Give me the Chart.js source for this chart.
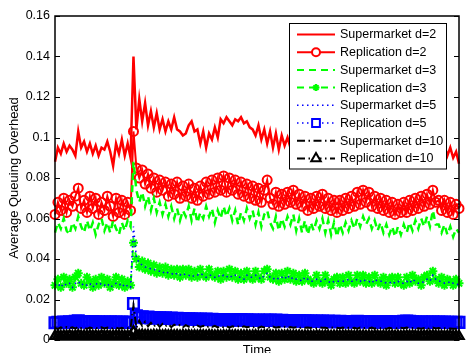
<!DOCTYPE html>
<html>
<head>
<meta charset="utf-8">
<script src="https://cdn.jsdelivr.net/npm/chart.js@4.4.1/dist/chart.umd.min.js"></script>
<style>
  body { margin: 0; background: #fff; }
  #wrap { width: 469px; height: 353px; }
</style>
</head>
<body>
<div id="wrap"><canvas id="queueChart" width="469" height="353"></canvas></div>
<script>
// valores (140 pasos de tiempo, pico en el paso 27)
const seriesNames = ['Supermarket d=2', 'Replication d=2', 'Supermarket d=3', 'Replication d=3',
    'Supermarket d=5', 'Replication d=5', 'Supermarket d=10', 'Replication d=10'];
const yTickValues = [0, 0.02, 0.04, 0.06, 0.08, 0.1, 0.12, 0.14, 0.16];
const xTitle = 'Time';
const yTitle = 'Average Queuing Overhead';

const superD2 = [
    0.088, 0.095, 0.092, 0.097, 0.093, 0.096, 0.094, 0.091, 0.103, 0.095,
    0.098, 0.093, 0.097, 0.092, 0.096, 0.091, 0.095, 0.094, 0.098, 0.093,
    0.086, 0.097, 0.092, 0.099, 0.091, 0.097, 0.090, 0.140, 0.104, 0.119,
    0.108, 0.117, 0.106, 0.113, 0.105, 0.112, 0.104, 0.109, 0.103, 0.108,
    0.104, 0.110, 0.104, 0.103, 0.101, 0.102, 0.106, 0.108, 0.103, 0.104,
    0.097, 0.103, 0.095, 0.102, 0.099, 0.105, 0.100, 0.109, 0.107, 0.110,
    0.108, 0.106, 0.109, 0.108, 0.110, 0.107, 0.108, 0.105, 0.104, 0.101,
    0.106, 0.099, 0.104, 0.097, 0.103, 0.095, 0.102, 0.094, 0.101, 0.096,
    0.100, 0.095, 0.099, 0.093, 0.098, 0.094, 0.099, 0.095, 0.100, 0.096,
    0.098, 0.094, 0.097, 0.095, 0.099, 0.096, 0.100, 0.097, 0.101, 0.098,
    0.102, 0.099, 0.103, 0.097, 0.101, 0.098, 0.102, 0.099, 0.104, 0.100,
    0.103, 0.098, 0.101, 0.097, 0.100, 0.096, 0.099, 0.095, 0.098, 0.096,
    0.099, 0.094, 0.098, 0.095, 0.097, 0.094, 0.098, 0.093, 0.097, 0.094,
    0.096, 0.092, 0.097, 0.093, 0.096, 0.091, 0.095, 0.090, 0.093, 0.087
];
const replD2 = [
    0.062, 0.068, 0.064, 0.070, 0.063, 0.069, 0.066, 0.071, 0.075, 0.065,
    0.069, 0.063, 0.071, 0.065, 0.070, 0.062, 0.068, 0.064, 0.071, 0.066,
    0.061, 0.070, 0.063, 0.069, 0.062, 0.068, 0.064, 0.103, 0.085, 0.080,
    0.084, 0.077, 0.082, 0.075, 0.080, 0.073, 0.079, 0.074, 0.078, 0.071,
    0.077, 0.072, 0.078, 0.070, 0.076, 0.071, 0.077, 0.070, 0.075, 0.069,
    0.076, 0.071, 0.078, 0.072, 0.079, 0.073, 0.080, 0.074, 0.081, 0.073,
    0.080, 0.074, 0.079, 0.072, 0.078, 0.071, 0.077, 0.070, 0.076, 0.069,
    0.075, 0.068, 0.074, 0.079, 0.070, 0.067, 0.073, 0.066, 0.072, 0.067,
    0.073, 0.068, 0.074, 0.067, 0.072, 0.066, 0.071, 0.064, 0.070, 0.065,
    0.071, 0.066, 0.072, 0.065, 0.070, 0.064, 0.069, 0.063, 0.069, 0.064,
    0.070, 0.065, 0.071, 0.066, 0.073, 0.067, 0.074, 0.068, 0.073, 0.066,
    0.071, 0.065, 0.070, 0.064, 0.069, 0.063, 0.068, 0.062, 0.067, 0.063,
    0.068, 0.063, 0.069, 0.064, 0.070, 0.065, 0.071, 0.066, 0.072, 0.067,
    0.074, 0.068, 0.069, 0.064, 0.069, 0.063, 0.068, 0.062, 0.067, 0.065
];
const superD3 = [
    0.053, 0.058, 0.055, 0.060, 0.054, 0.052, 0.058, 0.055, 0.061, 0.056,
    0.053, 0.059, 0.054, 0.058, 0.052, 0.057, 0.060, 0.054, 0.058, 0.053,
    0.059, 0.055, 0.052, 0.058, 0.054, 0.059, 0.056, 0.088, 0.074, 0.068,
    0.073, 0.066, 0.071, 0.064, 0.070, 0.063, 0.068, 0.062, 0.067, 0.061,
    0.066, 0.060, 0.065, 0.059, 0.064, 0.061, 0.066, 0.059, 0.065, 0.058,
    0.063, 0.060, 0.066, 0.061, 0.065, 0.058, 0.064, 0.060, 0.066, 0.061,
    0.065, 0.059, 0.064, 0.057, 0.063, 0.059, 0.065, 0.060, 0.064, 0.057,
    0.063, 0.056, 0.062, 0.064, 0.058, 0.055, 0.061, 0.054, 0.060, 0.056,
    0.061, 0.057, 0.062, 0.054, 0.060, 0.053, 0.059, 0.052, 0.058, 0.054,
    0.059, 0.055, 0.060, 0.053, 0.059, 0.052, 0.058, 0.051, 0.057, 0.053,
    0.058, 0.054, 0.059, 0.055, 0.060, 0.056, 0.061, 0.057, 0.060, 0.055,
    0.059, 0.054, 0.058, 0.053, 0.057, 0.052, 0.056, 0.051, 0.056, 0.052,
    0.057, 0.053, 0.058, 0.054, 0.059, 0.055, 0.060, 0.056, 0.061, 0.056,
    0.064, 0.057, 0.057, 0.053, 0.057, 0.052, 0.056, 0.051, 0.055, 0.053
];
const replD3 = [
    0.027, 0.030, 0.026, 0.031, 0.028, 0.030, 0.026, 0.031, 0.033, 0.028,
    0.027, 0.031, 0.029, 0.026, 0.030, 0.027, 0.031, 0.028, 0.030, 0.026,
    0.028, 0.031, 0.027, 0.030, 0.026, 0.029, 0.027, 0.048, 0.040, 0.036,
    0.039, 0.035, 0.038, 0.034, 0.037, 0.033, 0.036, 0.033, 0.036, 0.032,
    0.035, 0.032, 0.035, 0.031, 0.035, 0.032, 0.035, 0.031, 0.034, 0.031,
    0.035, 0.032, 0.031, 0.035, 0.032, 0.031, 0.034, 0.030, 0.034, 0.031,
    0.035, 0.031, 0.034, 0.030, 0.033, 0.030, 0.034, 0.031, 0.030, 0.034,
    0.031, 0.030, 0.034, 0.035, 0.031, 0.030, 0.033, 0.029, 0.033, 0.030,
    0.034, 0.030, 0.033, 0.029, 0.032, 0.029, 0.033, 0.030, 0.029, 0.028,
    0.032, 0.029, 0.028, 0.032, 0.029, 0.027, 0.030, 0.031, 0.028, 0.031,
    0.028, 0.032, 0.029, 0.028, 0.032, 0.029, 0.032, 0.028, 0.031, 0.028,
    0.032, 0.029, 0.028, 0.031, 0.027, 0.030, 0.031, 0.028, 0.031, 0.028,
    0.027, 0.031, 0.028, 0.032, 0.029, 0.030, 0.027, 0.031, 0.032, 0.029,
    0.034, 0.030, 0.028, 0.031, 0.027, 0.030, 0.029, 0.027, 0.030, 0.028
];
const superD5 = [
    0.027, 0.028, 0.026, 0.028, 0.027, 0.028, 0.026, 0.028, 0.029, 0.027,
    0.028, 0.027, 0.028, 0.026, 0.028, 0.027, 0.028, 0.027, 0.028, 0.026,
    0.027, 0.028, 0.027, 0.028, 0.026, 0.027, 0.026, 0.056, 0.041, 0.038,
    0.037, 0.036, 0.036, 0.035, 0.035, 0.034, 0.034, 0.033, 0.034, 0.033,
    0.033, 0.032, 0.033, 0.032, 0.033, 0.032, 0.032, 0.031, 0.032, 0.032,
    0.033, 0.032, 0.031, 0.032, 0.032, 0.031, 0.032, 0.031, 0.032, 0.031,
    0.032, 0.031, 0.032, 0.031, 0.031, 0.030, 0.032, 0.031, 0.031, 0.032,
    0.031, 0.030, 0.032, 0.033, 0.031, 0.030, 0.031, 0.030, 0.031, 0.030,
    0.032, 0.030, 0.031, 0.030, 0.030, 0.029, 0.031, 0.030, 0.029, 0.029,
    0.030, 0.029, 0.029, 0.030, 0.029, 0.028, 0.029, 0.029, 0.029, 0.029,
    0.029, 0.030, 0.029, 0.029, 0.030, 0.029, 0.030, 0.029, 0.029, 0.028,
    0.030, 0.029, 0.029, 0.029, 0.028, 0.028, 0.029, 0.028, 0.029, 0.028,
    0.028, 0.029, 0.028, 0.030, 0.029, 0.028, 0.028, 0.029, 0.030, 0.029,
    0.032, 0.030, 0.029, 0.029, 0.028, 0.028, 0.029, 0.028, 0.028, 0.027
];
const replD5 = [
    0.0085, 0.0088, 0.0086, 0.0089, 0.0087, 0.0090, 0.0088, 0.0092, 0.0095, 0.0091,
    0.0089, 0.0090, 0.0088, 0.0091, 0.0089, 0.0090, 0.0088, 0.0089, 0.0087, 0.0090,
    0.0088, 0.0089, 0.0087, 0.0089, 0.0088, 0.0087, 0.0088, 0.0180, 0.0120, 0.0112,
    0.0115, 0.0110, 0.0113, 0.0109, 0.0111, 0.0108, 0.0110, 0.0107, 0.0109, 0.0106,
    0.0108, 0.0105, 0.0107, 0.0104, 0.0106, 0.0104, 0.0105, 0.0103, 0.0104, 0.0102,
    0.0104, 0.0101, 0.0103, 0.0100, 0.0102, 0.0100, 0.0101, 0.0099, 0.0101, 0.0099,
    0.0100, 0.0098, 0.0100, 0.0099, 0.0101, 0.0098, 0.0100, 0.0097, 0.0099, 0.0097,
    0.0098, 0.0096, 0.0098, 0.0097, 0.0099, 0.0096, 0.0098, 0.0095, 0.0097, 0.0095,
    0.0096, 0.0094, 0.0096, 0.0094, 0.0095, 0.0093, 0.0095, 0.0093, 0.0094, 0.0092,
    0.0094, 0.0092, 0.0093, 0.0091, 0.0093, 0.0091, 0.0092, 0.0090, 0.0092, 0.0090,
    0.0091, 0.0089, 0.0091, 0.0090, 0.0092, 0.0090, 0.0091, 0.0089, 0.0091, 0.0089,
    0.0090, 0.0088, 0.0090, 0.0089, 0.0091, 0.0089, 0.0090, 0.0088, 0.0090, 0.0088,
    0.0092, 0.0094, 0.0092, 0.0090, 0.0089, 0.0088, 0.0090, 0.0088, 0.0089, 0.0088,
    0.0090, 0.0088, 0.0089, 0.0087, 0.0089, 0.0087, 0.0088, 0.0086, 0.0088, 0.0087
];
const superD10 = [
    0.0060, 0.0055, 0.0062, 0.0057, 0.0064, 0.0058, 0.0063, 0.0056, 0.0066, 0.0059,
    0.0061, 0.0055, 0.0062, 0.0058, 0.0060, 0.0056, 0.0063, 0.0057, 0.0061, 0.0055,
    0.0059, 0.0062, 0.0056, 0.0060, 0.0054, 0.0058, 0.0057, 0.0170, 0.0060, 0.0095,
    0.0070, 0.0090, 0.0068, 0.0085, 0.0066, 0.0082, 0.0065, 0.0080, 0.0068, 0.0078,
    0.0064, 0.0076, 0.0067, 0.0074, 0.0063, 0.0073, 0.0066, 0.0072, 0.0062, 0.0071,
    0.0065, 0.0070, 0.0061, 0.0069, 0.0064, 0.0070, 0.0062, 0.0068, 0.0063, 0.0069,
    0.0061, 0.0068, 0.0064, 0.0067, 0.0060, 0.0068, 0.0063, 0.0066, 0.0061, 0.0067,
    0.0060, 0.0066, 0.0062, 0.0065, 0.0059, 0.0066, 0.0061, 0.0064, 0.0060, 0.0065,
    0.0059, 0.0064, 0.0061, 0.0063, 0.0058, 0.0064, 0.0060, 0.0062, 0.0059, 0.0063,
    0.0058, 0.0062, 0.0060, 0.0061, 0.0057, 0.0062, 0.0059, 0.0060, 0.0058, 0.0062,
    0.0057, 0.0061, 0.0059, 0.0060, 0.0056, 0.0061, 0.0058, 0.0060, 0.0057, 0.0061,
    0.0056, 0.0060, 0.0058, 0.0059, 0.0055, 0.0060, 0.0057, 0.0059, 0.0056, 0.0060,
    0.0058, 0.0062, 0.0057, 0.0059, 0.0055, 0.0058, 0.0056, 0.0059, 0.0055, 0.0058,
    0.0061, 0.0057, 0.0059, 0.0055, 0.0058, 0.0054, 0.0057, 0.0055, 0.0056, 0.0054
];
const replD10 = [
    0.0018, 0.0020, 0.0017, 0.0019, 0.0018, 0.0020, 0.0017, 0.0019, 0.0021, 0.0018,
    0.0019, 0.0017, 0.0020, 0.0018, 0.0019, 0.0017, 0.0020, 0.0018, 0.0019, 0.0017,
    0.0018, 0.0020, 0.0018, 0.0019, 0.0017, 0.0018, 0.0019, 0.0040, 0.0024, 0.0022,
    0.0023, 0.0021, 0.0022, 0.0020, 0.0022, 0.0021, 0.0022, 0.0020, 0.0021, 0.0020,
    0.0022, 0.0020, 0.0021, 0.0019, 0.0021, 0.0020, 0.0021, 0.0019, 0.0020, 0.0019,
    0.0021, 0.0020, 0.0019, 0.0021, 0.0020, 0.0019, 0.0020, 0.0018, 0.0020, 0.0019,
    0.0021, 0.0019, 0.0020, 0.0018, 0.0020, 0.0019, 0.0020, 0.0018, 0.0019, 0.0020,
    0.0018, 0.0019, 0.0020, 0.0021, 0.0019, 0.0018, 0.0019, 0.0018, 0.0019, 0.0018,
    0.0020, 0.0018, 0.0019, 0.0018, 0.0019, 0.0017, 0.0019, 0.0018, 0.0018, 0.0017,
    0.0019, 0.0018, 0.0017, 0.0019, 0.0018, 0.0017, 0.0018, 0.0019, 0.0018, 0.0019,
    0.0018, 0.0019, 0.0018, 0.0017, 0.0019, 0.0018, 0.0019, 0.0017, 0.0018, 0.0017,
    0.0019, 0.0018, 0.0017, 0.0018, 0.0017, 0.0018, 0.0019, 0.0017, 0.0018, 0.0017,
    0.0018, 0.0019, 0.0018, 0.0019, 0.0018, 0.0017, 0.0018, 0.0019, 0.0019, 0.0018,
    0.0020, 0.0018, 0.0017, 0.0018, 0.0017, 0.0018, 0.0019, 0.0017, 0.0018, 0.0017
];

const timeSteps = superD2.map((_, i) => i);
const FONT = '"Liberation Sans", Arial, Helvetica, sans-serif';
Chart.defaults.font.family = FONT;
Chart.defaults.color = '#000';

// estilo de cada serie (tipo MATLAB)
function serie(i, data, color, dash, lineW, marker, radius, markerW) {
    return {
        label: seriesNames[i],
        data: data,
        borderColor: color,
        borderWidth: lineW,
        borderDash: dash || [],
        pointStyle: marker || 'circle',
        pointRadius: marker ? radius : 0,
        pointBorderColor: color,
        pointBackgroundColor: 'rgba(0,0,0,0)',
        pointBorderWidth: markerW || 2,
        tension: 0,
        order: 7 - i
    };
}

const DASH = [7, 5], DOT = [1.5, 3.5], DASHDOT = [8, 3.5, 1.5, 3.5];

// marco y marcas de las escalas hacia dentro
const framePlugin = {
    id: 'framePlugin',
    afterDatasetsDraw(chart) {
        const { ctx, chartArea: a, scales: { y } } = chart;
        ctx.save();
        ctx.strokeStyle = '#000';
        ctx.lineWidth = 1.5;
        ctx.strokeRect(a.left, a.top, a.right - a.left, a.bottom - a.top);
        ctx.lineWidth = 1;
        y.ticks.forEach(t => {
            const py = Math.round(y.getPixelForValue(t.value)) + 0.5;
            ctx.beginPath();
            ctx.moveTo(a.left, py); ctx.lineTo(a.left + 5, py);
            ctx.moveTo(a.right, py); ctx.lineTo(a.right - 5, py);
            ctx.stroke();
        });
        ctx.font = '13px ' + FONT;
        ctx.fillStyle = '#000';
        ctx.textAlign = 'center';
        ctx.textBaseline = 'alphabetic';
        ctx.fillText(xTitle, (a.left + a.right) / 2, 354);
        ctx.restore();
    }
};

// leyenda con recuadro blanco
const legendPlugin = {
    id: 'legendPlugin',
    afterDraw(chart) {
        const ctx = chart.ctx;
        const bx = 289.5, by = 23.5, bw = 157, bh = 145.5;
        const markSize = { circle: 4, star: 3.5, rect: 5.5, triangle: 5.5 };
        ctx.save();
        ctx.fillStyle = '#fff';
        ctx.fillRect(bx, by, bw, bh);
        ctx.strokeStyle = '#000';
        ctx.lineWidth = 1;
        ctx.strokeRect(bx, by, bw, bh);
        chart.data.datasets.forEach((ds, i) => {
            const cy = 34.5 + i * 17.7;
            ctx.strokeStyle = ds.borderColor;
            ctx.lineWidth = Math.min(ds.borderWidth, 2);
            ctx.setLineDash(ds.borderDash);
            ctx.beginPath();
            ctx.moveTo(297, cy);
            ctx.lineTo(335, cy);
            ctx.stroke();
            ctx.setLineDash([]);
            if (ds.pointRadius > 0) {
                ctx.fillStyle = '#fff';
                ctx.strokeStyle = ds.pointBorderColor;
                ctx.lineWidth = 2;
                Chart.helpers.drawPoint(ctx, {
                    pointStyle: ds.pointStyle, radius: markSize[ds.pointStyle], rotation: 0, borderWidth: 2
                }, 316, cy);
            }
            ctx.fillStyle = '#000';
            ctx.font = '12.5px ' + FONT;
            ctx.textAlign = 'left';
            ctx.textBaseline = 'middle';
            ctx.fillText(ds.label, 340, cy + 0.5);
        });
        ctx.restore();
    }
};

new Chart(document.getElementById('queueChart'), {
    type: 'line',
    data: {
        labels: timeSteps,
        datasets: [
            serie(0, superD2, '#ff0000', null, 2.5),
            serie(1, replD2, '#ff0000', null, 2, 'circle', 4.5),
            serie(2, superD3, '#00ff00', DASH, 2.5),
            serie(3, replD3, '#00ff00', DASH, 2, 'star', 4.5),
            serie(4, superD5, '#0000ff', DOT, 1.5),
            serie(5, replD5, '#0000ff', DOT, 1.5, 'rect', 7.5, 2.5),
            serie(6, superD10, '#000000', DASHDOT, 2),
            serie(7, replD10, '#000000', DASHDOT, 2, 'triangle', 5.5, 2.5)
        ]
    },
    options: {
        responsive: false,
        animation: false,
        devicePixelRatio: 1,
        layout: { padding: { top: 16, right: 5, bottom: 13, left: 0 } },
        plugins: { legend: { display: false }, tooltip: { enabled: false } },
        scales: {
            x: { type: 'category', display: false },
            y: {
                min: 0,
                max: 0.16,
                afterFit(scale) { scale.width = 55; },
                afterBuildTicks(scale) { scale.ticks = yTickValues.map(v => ({ value: v })); },
                grid: { display: false, drawTicks: false },
                border: { display: false },
                ticks: {
                    padding: 5,
                    font: { size: 12.5 },
                    callback: v => String(Number(v.toFixed(2)))
                },
                title: {
                    display: true,
                    text: yTitle,
                    font: { size: 13 },
                    padding: { top: 7, bottom: 0 }
                }
            }
        }
    },
    plugins: [framePlugin, legendPlugin]
});
</script>
</body>
</html>
